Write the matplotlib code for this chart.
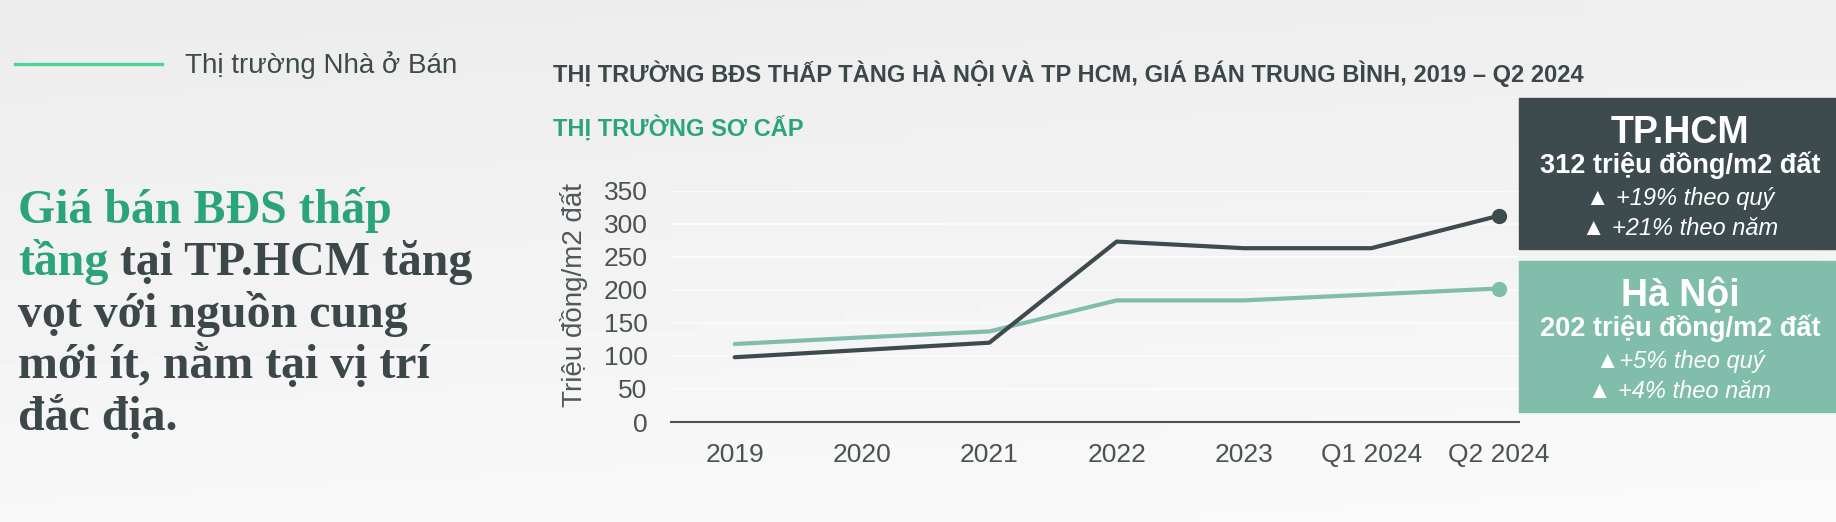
import numpy as np
import matplotlib.pyplot as plt
from matplotlib.patches import Rectangle

# data
categories = ['2019', '2020', '2021', '2022', '2023', 'Q1 2024', 'Q2 2024']
hcm_price = [98, 109, 120, 273, 263, 263, 312]
hanoi_price = [118, 128, 137, 184, 184, 193, 202]
y_ticks = [0, 50, 100, 150, 200, 250, 300, 350]

hcm_box = ['TP.HCM', '312 triệu đồng/m2 đất', '▲ +19% theo quý', '▲ +21% theo năm']
hanoi_box = ['Hà Nội', '202 triệu đồng/m2 đất', '▲+5% theo quý', '▲ +4% theo năm']

DARK = '#3d4b4e'
TEAL = '#80bdaa'
GREEN = '#2aa47c'
TEXT = '#3b4749'

plt.rcParams['font.family'] = ['Liberation Sans', 'DejaVu Sans']

W, H = 1836, 522
fig = plt.figure(figsize=(W / 100, H / 100), dpi=100)

# soft grey background
bg = fig.add_axes([0, 0, 1, 1], zorder=-10)
yy, xx = np.mgrid[0:1:60j, 0:1:200j]
shade = 0.925 + 0.045 * yy + 0.01 * xx
bg.imshow(shade, cmap='gray', vmin=0, vmax=1, aspect='auto', extent=[0, 1, 0, 1])
bg.set_axis_off()

# top-left section marker
fig.add_artist(plt.Line2D([15 / W, 162 / W], [1 - 64 / H, 1 - 64 / H], color='#4fd498', lw=2.4))
fig.text(185 / W, 1 - 73 / H, 'Thị trường Nhà ở Bán', fontsize=20, color='#3f4a4c', va='baseline')

# headline
serif = {'family': ['Liberation Serif', 'DejaVu Serif'], 'weight': 'bold', 'fontsize': 34.5}
x0 = 18 / W
fig.text(x0, 1 - 223 / H, 'Giá bán BĐS thấp', color=GREEN, va='baseline', **serif)
t = fig.text(x0, 1 - 275 / H, 'tầng', color=GREEN, va='baseline', **serif)
bg.annotate(' tại TP.HCM tăng', xy=(1, 0), xycoords=t, va='bottom', ha='left', color=TEXT, **serif)
fig.text(x0, 1 - 327 / H, 'vọt với nguồn cung', color=TEXT, va='baseline', **serif)
fig.text(x0, 1 - 378 / H, 'mới ít, nằm tại vị trí', color=TEXT, va='baseline', **serif)
fig.text(x0, 1 - 430 / H, 'đắc địa.', color=TEXT, va='baseline', **serif)

# chart titles
fig.text(553 / W, 1 - 82 / H, 'THỊ TRƯỜNG BĐS THẤP TÀNG HÀ NỘI VÀ TP HCM, GIÁ BÁN TRUNG BÌNH, 2019 – Q2 2024',
         fontsize=17, fontweight='bold', color=TEXT, va='baseline')
fig.text(553 / W, 1 - 136 / H, 'THỊ TRƯỜNG SƠ CẤP', fontsize=17, fontweight='bold', color=GREEN, va='baseline')

# line chart
ax = fig.add_axes([671 / W, 1 - 422 / H, (1519 - 671) / W, (422 - 190.7) / H])
ax.set_facecolor('none')
x = np.arange(len(categories))
ax.plot(x, hanoi_price, color=TEAL, lw=3, solid_capstyle='round', solid_joinstyle='round')
ax.plot(x[-1], hanoi_price[-1], 'o', color=TEAL, ms=10)
ax.plot(x, hcm_price, color=DARK, lw=3, solid_capstyle='round', solid_joinstyle='round')
ax.plot(x[-1], hcm_price[-1], 'o', color=DARK, ms=10)

ax.set_xlim(-0.5, 6.16)
ax.set_ylim(0, 350)
ax.set_xticks(x)
ax.set_xticklabels(categories)
ax.set_yticks(y_ticks)
ax.tick_params(length=0, labelsize=19, colors='#4a5254')
ax.tick_params(axis='y', pad=17)
ax.tick_params(axis='x', pad=15)
ax.grid(axis='y', color='white', lw=1.2, alpha=0.8)
ax.set_axisbelow(True)
for s in ['top', 'right', 'left']:
    ax.spines[s].set_visible(False)
ax.spines['bottom'].set_color('#4a5557')
ax.spines['bottom'].set_linewidth(1.5)
ax.set_ylabel('Triệu đồng/m2 đất', fontsize=20, color='#4f585a')
ax.yaxis.set_label_coords(-0.098, 0.549)

# callout boxes
cx = 1680 / W
offsets = [45, 75, 107, 137]
styles = [dict(fontsize=27, fontweight='bold'),
          dict(fontsize=19.5, fontweight='bold'),
          dict(fontsize=17, style='italic'),
          dict(fontsize=17, style='italic')]
for top, bottom, color, lines in [(98, 249, DARK, hcm_box), (261, 412, TEAL, hanoi_box)]:
    fig.add_artist(Rectangle((1519 / W, 1 - bottom / H), (W - 1519) / W, (bottom - top) / H,
                             transform=fig.transFigure, color=color, zorder=5))
    for line, off, st in zip(lines, offsets, styles):
        fig.text(cx, 1 - (top + off) / H, line, color='white', ha='center', va='baseline', zorder=6, **st)

fig.savefig('out.png', dpi=100)
